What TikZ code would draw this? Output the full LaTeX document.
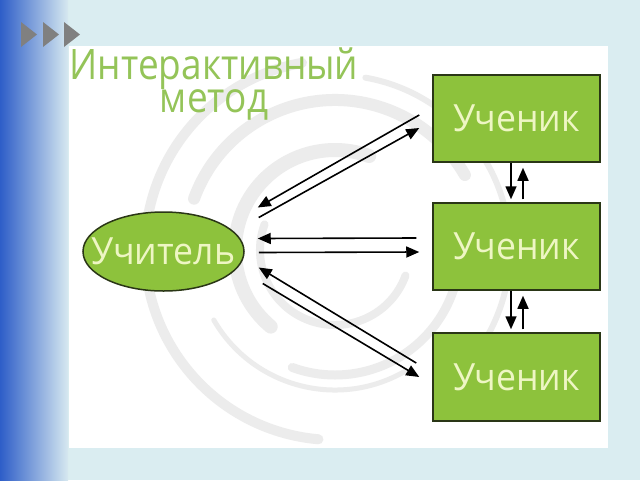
\documentclass[tikz,border=0pt]{standalone}
\usepackage{fontspec}
\setmainfont{Open Sans}
\newfontfamily\titlefont{Open Sans}[FakeStretch=0.88]
\newfontfamily\boxfont{Open Sans}[FakeStretch=0.95]
\usetikzlibrary{shapes.geometric,arrows.meta}

\definecolor{skyback}{RGB}{218,237,241}
\definecolor{stripblue}{RGB}{46,94,200}
\definecolor{striplight}{RGB}{214,232,240}
\definecolor{leaf}{RGB}{141,194,60}
\definecolor{leafedge}{RGB}{42,54,22}
\definecolor{paletext}{RGB}{238,246,196}
\definecolor{titlegreen}{RGB}{148,196,88}
\definecolor{markgray}{RGB}{128,128,128}
\definecolor{swirlgray}{RGB}{236,236,236}

\tikzset{
    pupil/.style={draw=leafedge, line width=1.5pt, fill=leaf, text=paletext,
        minimum width=167pt, minimum height=87pt, inner sep=0pt,
        font=\boxfont\fontsize{37.5}{40}\selectfont},
    master/.style={ellipse, draw=leafedge, line width=1.5pt, fill=leaf, text=paletext,
        minimum width=161pt, minimum height=79pt, inner xsep=-18pt, inner ysep=0pt,
        font=\boxfont\fontsize{37.5}{40}\selectfont},
    link/.style={line width=1.6pt, -{Triangle[length=13pt,width=11pt]}},
    swirl/.style={swirlgray, line cap=round},
}

\begin{document}
\begin{tikzpicture}[x=1pt, y=-1pt]
    \useasboundingbox (0,0) rectangle (640,480);
    \fill[skyback] (0,0) rectangle (640,480);
    \shade[left color=stripblue, right color=striplight] (0,0) rectangle (68,480);
    \fill[white] (69,46) rectangle (608,448);

    % faint globe swirls behind
    \foreach \r/\a/\b/\w in {190/95/260/10, 175/280/400/6, 150/200/330/12,
                             125/-20/110/9, 100/130/290/14, 75/20/200/8, 140/60/150/5}
        \draw[swirl, line width=\w pt] (335,250) ++(\a:\r) arc[start angle=\a, end angle=\b, radius=\r];

    % markers top left
    \foreach \xa in {21,43,64}
        \fill[markgray] (\xa,22) -- (\xa,47) -- (\xa+16,34.5) -- cycle;

    \node[text=titlegreen, align=center, font=\titlefont\fontsize{42}{31}\selectfont]
        (title) at (214,84) {Интерактивный\\метод};

    \node[master] (teacher) at (163.5,251.5) {Учитель};

    \node[pupil] (s1) at (516.5,118.5) {Ученик};
    \node[pupil] (s2) at (516.5,246.5) {Ученик};
    \node[pupil, minimum height=88pt] (s3) at (516.5,377) {Ученик};

    % teacher <-> pupils
    \draw[link] ([shift={(-13,-3.5)}]s1.west) -- ([shift={(13,-44)}]teacher.east);
    \draw[link] ([shift={(14,-34)}]teacher.east) -- ([shift={(-13,9.5)}]s1.west);
    \draw[link] ([shift={(-16,-8.5)}]s2.west) -- ([shift={(13,-13)}]teacher.east);
    \draw[link] ([shift={(14,1)}]teacher.east) -- ([shift={(-13,5.5)}]s2.west);
    \draw[link] ([shift={(-16,-14)}]s3.west) -- ([shift={(14,16)}]teacher.east);
    \draw[link] ([shift={(18,32)}]teacher.east) -- ([shift={(-13,0)}]s3.west);

    % pupil <-> pupil
    \draw[link] ([xshift=-5.5pt]s1.south) -- ([shift={(-5.5,-3)}]s2.north);
    \draw[link] ([shift={(6.5,-3)}]s2.north) -- ([shift={(6.5,5)}]s1.south);
    \draw[link] ([xshift=-5.5pt]s2.south) -- ([shift={(-5.5,-3)}]s3.north);
    \draw[link] ([shift={(6.5,-3)}]s3.north) -- ([shift={(6.5,5)}]s2.south);
\end{tikzpicture}
\end{document}
